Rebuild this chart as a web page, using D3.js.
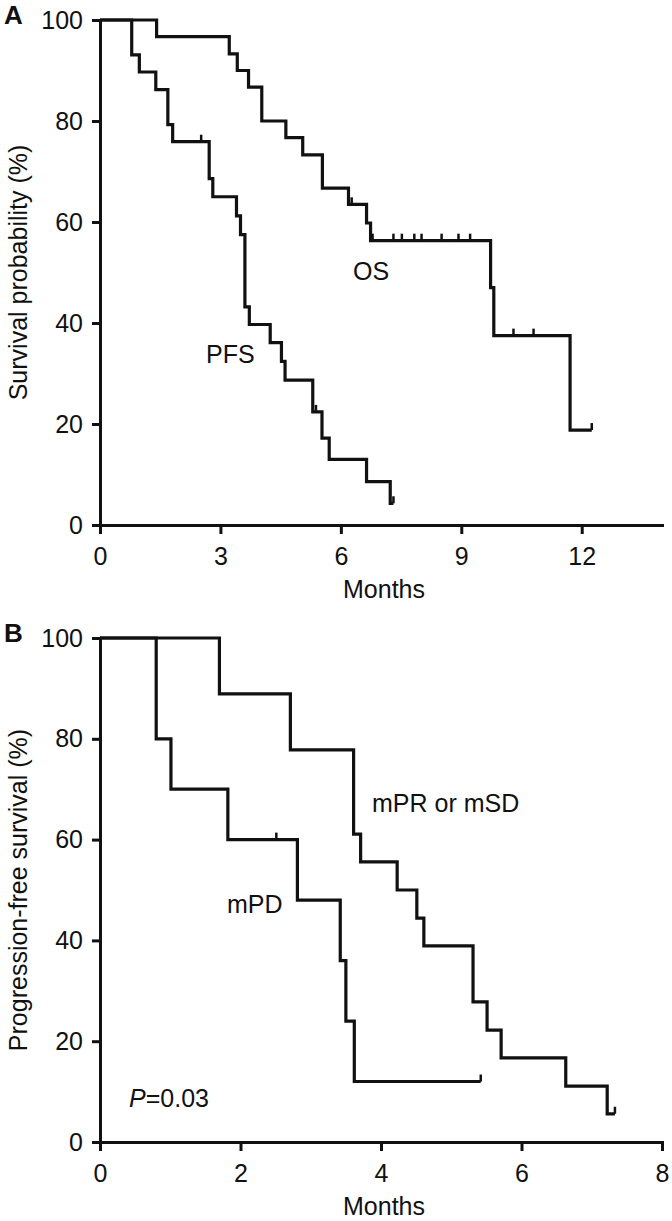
<!DOCTYPE html>
<html>
<head>
<meta charset="utf-8">
<script src="https://cdn.jsdelivr.net/npm/d3@7"></script>
<style>
  body { margin: 0; background: #fff; }
  text { font-family: "Liberation Sans", Arial, Helvetica, sans-serif; fill: #111; }
  .axis path, .axis line { stroke: #111; stroke-width: 3; }
  .axis text { font-size: 25px; }
</style>
</head>
<body>
<svg id="chart"></svg>
<script>
// panel A: overall survival and progression-free survival
var osTimes = [0, 1.41, 3.22, 3.42, 3.70, 4.03, 4.63, 5.05, 5.54, 6.19, 6.64, 6.74, 9.73, 9.81, 11.71]
var osSurv = [100, 96.7, 93.3, 90.0, 86.7, 80.0, 76.7, 73.3, 66.7, 63.5, 59.8, 56.3, 47.0, 37.5, 18.8]
var osEnd = 12.25
var osCensorTimes = [6.27, 6.79, 7.31, 7.52, 7.83, 8.01, 8.51, 8.93, 9.22, 10.30, 10.80, 12.25]

var pfsTimes = [0, 0.79, 0.98, 1.39, 1.69, 1.81, 2.72, 2.81, 3.40, 3.50, 3.61, 3.72, 4.24, 4.52, 4.61, 5.30, 5.53, 5.71, 6.64, 7.23]
var pfsSurv = [100, 93.1, 89.7, 86.2, 79.3, 75.9, 68.6, 65.0, 61.2, 57.5, 43.2, 39.7, 36.1, 32.4, 28.7, 22.4, 17.2, 13.0, 8.6, 4.3]
var pfsEnd = 7.31
var pfsCensorTimes = [2.52, 5.38, 7.31]

// panel B: PFS by metabolic response
var respTimes = [0, 1.70, 2.71, 3.61, 3.71, 4.23, 4.51, 4.61, 5.31, 5.51, 5.71, 6.63, 7.22]
var respSurv = [100, 88.9, 77.8, 61.1, 55.6, 50.0, 44.4, 38.9, 27.8, 22.2, 16.7, 11.1, 5.6]
var respEnd = 7.33
var respCensorTimes = [7.33]

var pdTimes = [0, 0.80, 1.01, 1.82, 2.81, 3.42, 3.50, 3.62]
var pdSurv = [100, 80, 70, 60, 48, 36, 24, 12]
var pdEnd = 5.42
var pdCensorTimes = [2.51, 5.42]

var yTicks = [0, 20, 40, 60, 80, 100]
var xTicksA = [0, 3, 6, 9, 12]
var xTicksB = [0, 2, 4, 6, 8]

var svg = d3.select("#chart")
    .attr("width", 672)
    .attr("height", 1221)

// survival value in force at time t (step function)
var survAt = function(times, surv, t)
{
    var i = d3.bisectRight(times, t) - 1
    return surv[Math.max(i, 0)]
}

var drawCurve = function(g, xScale, yScale, times, surv, end, censors)
{
    var pts = times.map(function(t, i) { return [t, surv[i]] })
    pts.push([end, surv[surv.length - 1]])

    var line = d3.line()
        .x(function(d) { return xScale(d[0]) })
        .y(function(d) { return yScale(d[1]) })
        .curve(d3.curveStepAfter)

    g.append("path")
        .datum(pts)
        .attr("d", line)
        .attr("fill", "none")
        .attr("stroke", "#111")
        .attr("stroke-width", 3.2)
        .attr("stroke-linejoin", "miter")

    g.selectAll(null)
        .data(censors)
        .enter()
        .append("line")
        .attr("x1", function(t) { return xScale(t) })
        .attr("x2", function(t) { return xScale(t) })
        .attr("y1", function(t) { return yScale(survAt(times, surv, t)) })
        .attr("y2", function(t) { return yScale(survAt(times, surv, t)) - 7 })
        .attr("stroke", "#111")
        .attr("stroke-width", 2.5)
}

var drawPanel = function(cfg)
{
    var xScale = d3.scaleLinear()
        .domain([0, cfg.xMax])
        .range([100, 662])
    var yScale = d3.scaleLinear()
        .domain([0, 100])
        .range([cfg.bottom, cfg.top])

    svg.append("g")
        .attr("class", "axis")
        .attr("transform", "translate(0," + cfg.bottom + ")")
        .call(d3.axisBottom(xScale).tickValues(cfg.xTicks).tickSize(9).tickSizeOuter(0).tickPadding(13))

    svg.append("g")
        .attr("class", "axis")
        .attr("transform", "translate(100,0)")
        .call(d3.axisLeft(yScale).tickValues(yTicks).tickSize(8).tickSizeOuter(0).tickPadding(9))

    svg.selectAll(".axis .domain").attr("stroke-linecap", "square")

    var g = svg.append("g")
    cfg.curves.forEach(function(c)
    {
        drawCurve(g, xScale, yScale, c.times, c.surv, c.end, c.censors)
    })

    svg.append("text")
        .attr("x", 4)
        .attr("y", cfg.top + 4)
        .attr("font-size", 26)
        .attr("font-weight", "bold")
        .text(cfg.letter)

    svg.append("text")
        .attr("transform", "translate(27," + (cfg.top + cfg.bottom) / 2 + ") rotate(-90)")
        .attr("text-anchor", "middle")
        .attr("font-size", 25)
        .text(cfg.yLabel)

    svg.append("text")
        .attr("x", 384)
        .attr("y", cfg.bottom + 73)
        .attr("text-anchor", "middle")
        .attr("font-size", 25)
        .text("Months")

    cfg.labels.forEach(function(l)
    {
        var t = svg.append("text")
            .attr("x", l.x)
            .attr("y", l.y)
            .attr("font-size", 25)
        if (l.italic) {
            t.append("tspan").attr("font-style", "italic").text(l.italic)
        }
        t.append("tspan").text(l.text)
    })
}

drawPanel({
    letter: "A",
    top: 20,
    bottom: 525,
    xMax: 14,
    xTicks: xTicksA,
    yLabel: "Survival probability (%)",
    curves: [
        {times: osTimes, surv: osSurv, end: osEnd, censors: osCensorTimes},
        {times: pfsTimes, surv: pfsSurv, end: pfsEnd, censors: pfsCensorTimes}
    ],
    labels: [
        {x: 353, y: 280, text: "OS"},
        {x: 206, y: 363, text: "PFS"}
    ]
})

drawPanel({
    letter: "B",
    top: 638,
    bottom: 1142,
    xMax: 8,
    xTicks: xTicksB,
    yLabel: "Progression-free survival (%)",
    curves: [
        {times: respTimes, surv: respSurv, end: respEnd, censors: respCensorTimes},
        {times: pdTimes, surv: pdSurv, end: pdEnd, censors: pdCensorTimes}
    ],
    labels: [
        {x: 372, y: 812, text: "mPR or mSD"},
        {x: 227, y: 913, text: "mPD"},
        {x: 129, y: 1107, italic: "P", text: "=0.03"}
    ]
})
</script>
</body>
</html>
